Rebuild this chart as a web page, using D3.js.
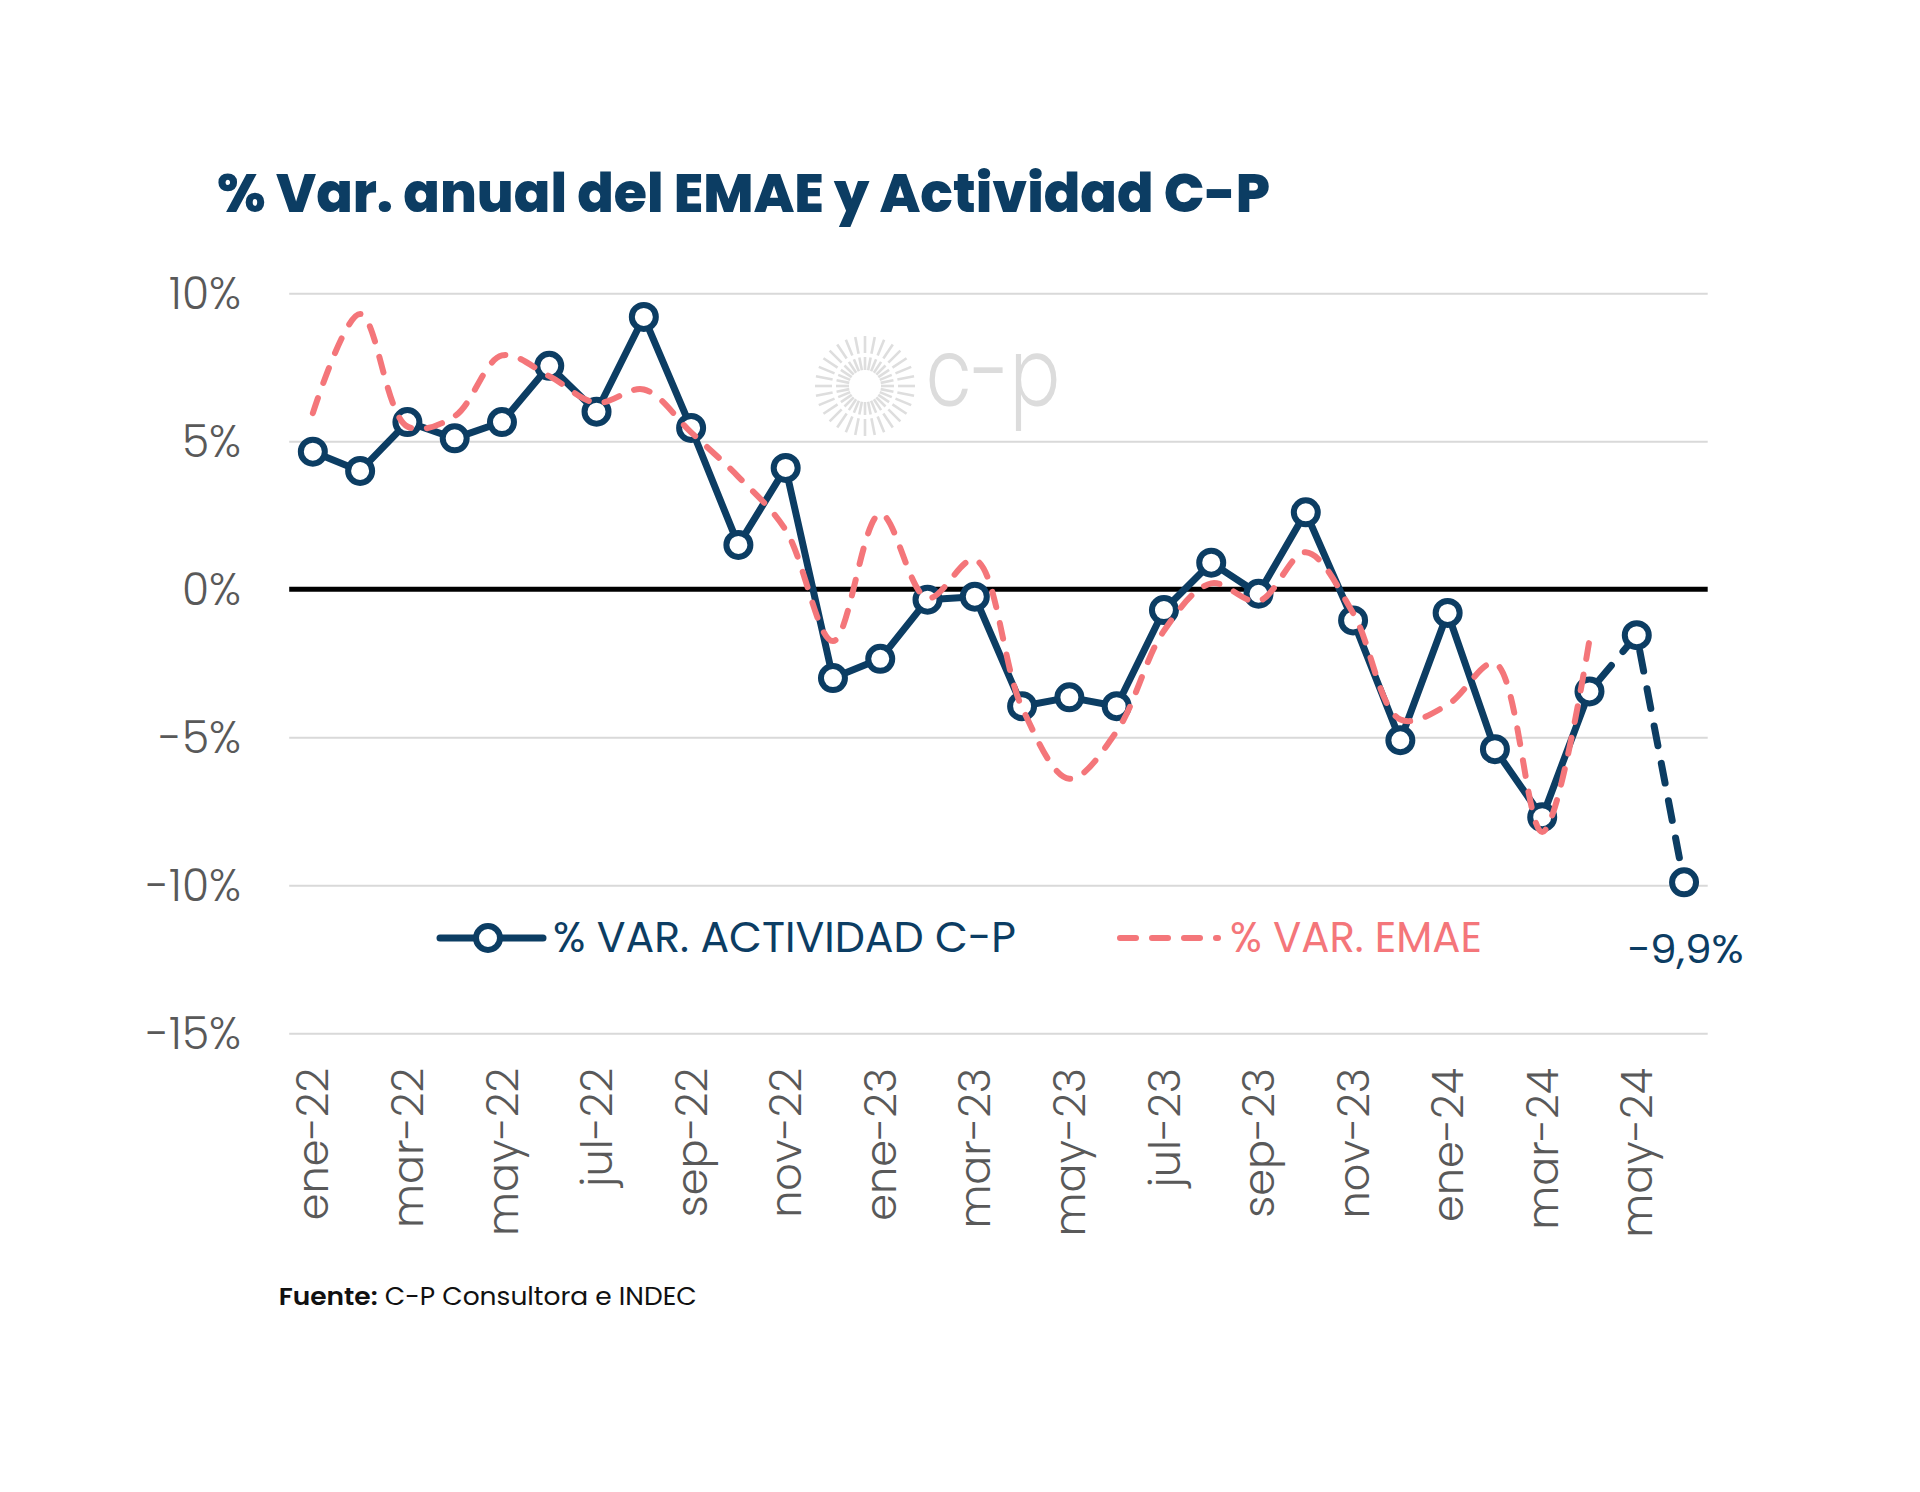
<!DOCTYPE html>
<html>
<head>
<meta charset="utf-8">
<script src="https://cdn.jsdelivr.net/npm/d3@7"></script>
<style>
  html, body { margin: 0; padding: 0; background: #ffffff; }
  svg { display: block; }
</style>
</head>
<body>
<svg id="chart" width="1920" height="1492"></svg>
<script>
// ---------------- DATA ----------------
const months = [
  "ene-22","feb-22","mar-22","abr-22","may-22","jun-22","jul-22","ago-22","sep-22","oct-22","nov-22","dic-22",
  "ene-23","feb-23","mar-23","abr-23","may-23","jun-23","jul-23","ago-23","sep-23","oct-23","nov-23","dic-23",
  "ene-24","feb-24","mar-24","abr-24","may-24","jun-24"
];
const actividadCP = [
  4.65, 4.0, 5.65, 5.1, 5.65, 7.55, 6.0, 9.2, 5.45, 1.5, 4.1, -3.0,
  -2.35, -0.35, -0.25, -3.95, -3.65, -3.95, -0.7, 0.9, -0.15, 2.6, -1.05, -5.1,
  -0.8, -5.4, -7.7, -3.45, -1.55, -9.9
];
const emae = [
  5.95, 9.3, 5.5, 5.85, 7.9, 7.2, 6.3, 6.75, 5.3, 3.8, 2.0, -1.75,
  2.55, -0.3, 1.0, -4.0, -6.4, -4.8, -1.4, 0.2, -0.4, 1.25, -0.8, -4.4,
  -3.9, -2.5, -8.2, -1.7
];
const yTicks = [10, 5, 0, -5, -10, -15];
const xTickLabels = ["ene-22","mar-22","may-22","jul-22","sep-22","nov-22","ene-23","mar-23","may-23","jul-23","sep-23","nov-23","ene-24","mar-24","may-24"];
const dashedFromIndex = 27; // actividad becomes dashed from abr-24 on
const titleText = "% Var. anual del EMAE y Actividad C-P";
const legendLabels = ["% VAR. ACTIVIDAD C-P", "% VAR. EMAE"];
const lastLabel = "\u22129,9%";
const sourceBold = "Fuente:";
const sourceRest = " C-P Consultora e INDEC";

// ---------------- STYLE ----------------
const NAVY = "#0c3d63";
const PINK = "#f4767a";
const GRID = "#d9d9d9";
const TICK = "#595959";
const FONT = "Poppins, Lato, 'Noto Sans', sans-serif";

const svg = d3.select("#chart");
svg.append("rect").attr("width", 1920).attr("height", 1492).attr("fill", "#fff");

const x = d3.scalePoint().domain(months).range([289.2, 1707.7]).padding(0.5);
const y = d3.scaleLinear().domain([-15, 10]).range([1033.3, 293.3]);

// watermark
const wm = svg.append("g").attr("transform", "translate(865,386)");
const nRays = 32;
for (let i = 0; i < nRays; i++) {
  const a = (i / nRays) * 2 * Math.PI;
  [[16, 29], [33, 50]].forEach(([r0, r1]) => {
    wm.append("line")
      .attr("x1", r0 * Math.cos(a)).attr("y1", r0 * Math.sin(a))
      .attr("x2", r1 * Math.cos(a)).attr("y2", r1 * Math.sin(a))
      .attr("stroke", "#dedede").attr("stroke-width", 2.6);
  });
}
svg.append("text").attr("x", 926).attr("y", 406)
  .attr("font-family", FONT).attr("font-weight", 300).attr("font-size", 95)
  .attr("fill", "#dcdcdc").attr("textLength", 134).attr("lengthAdjust", "spacingAndGlyphs")
  .text("c-p");

// gridlines
const grid = svg.append("g")
  .attr("transform", `translate(${x.range()[0]},0)`)
  .call(d3.axisRight(y).tickValues(yTicks.filter(d => d !== 0)).tickSize(x.range()[1] - x.range()[0]).tickFormat(""));
grid.select(".domain").remove();
grid.selectAll("line").attr("stroke", GRID).attr("stroke-width", 2);

// zero line
svg.append("line")
  .attr("x1", x.range()[0]).attr("x2", x.range()[1])
  .attr("y1", y(0)).attr("y2", y(0))
  .attr("stroke", "#000").attr("stroke-width", 5);

// y axis labels
const yAxis = svg.append("g").attr("transform", "translate(241,0)")
  .call(d3.axisLeft(y).tickValues(yTicks).tickSize(0).tickPadding(0).tickFormat(d => d + "%"));
yAxis.select(".domain").remove();
yAxis.selectAll("text")
  .attr("font-family", FONT).attr("font-weight", 300).attr("font-size", 44)
  .attr("fill", TICK).attr("dy", "0.35em");

// x axis labels
const xAxis = svg.append("g").attr("transform", "translate(0,1068)")
  .call(d3.axisBottom(x).tickValues(xTickLabels).tickSize(0));
xAxis.select(".domain").remove();
xAxis.selectAll("text")
  .attr("transform", "rotate(-90)")
  .attr("x", 0).attr("y", 0).attr("dy", "0.35em")
  .attr("text-anchor", "end")
  .attr("font-family", FONT).attr("font-weight", 300).attr("font-size", 43)
  .attr("fill", TICK);

// actividad line
const actPts = actividadCP.map((v, i) => [x(months[i]), y(v)]);
const lineLin = d3.line();
svg.append("path")
  .attr("d", lineLin(actPts.slice(0, dashedFromIndex + 1)))
  .attr("fill", "none").attr("stroke", NAVY).attr("stroke-width", 7)
  .attr("stroke-linejoin", "round").attr("stroke-linecap", "round");
svg.append("path")
  .attr("d", lineLin(actPts.slice(dashedFromIndex)))
  .attr("fill", "none").attr("stroke", NAVY).attr("stroke-width", 7)
  .attr("stroke-dasharray", "20 18").attr("stroke-linecap", "round")
  .attr("stroke-dashoffset", -14);

svg.append("g").selectAll("circle").data(actPts).join("circle")
  .attr("cx", d => d[0]).attr("cy", d => d[1]).attr("r", 12)
  .attr("fill", "#fff").attr("stroke", NAVY).attr("stroke-width", 6);

// EMAE line (smoothed, dashed) on top
const emaePts = emae.map((v, i) => [x(months[i]), y(v)]);
svg.append("path")
  .attr("d", d3.line().curve(d3.curveCatmullRom.alpha(0.5))(emaePts))
  .attr("fill", "none").attr("stroke", PINK).attr("stroke-width", 6)
  .attr("stroke-dasharray", "16 16").attr("stroke-linecap", "round");

// legend
const lg = svg.append("g");
lg.append("line").attr("x1", 440).attr("x2", 543).attr("y1", 938).attr("y2", 938)
  .attr("stroke", NAVY).attr("stroke-width", 7).attr("stroke-linecap", "round");
lg.append("circle").attr("cx", 488).attr("cy", 938).attr("r", 12)
  .attr("fill", "#fff").attr("stroke", NAVY).attr("stroke-width", 6);
lg.append("text").attr("x", 553).attr("y", 951.7)
  .attr("font-family", FONT).attr("font-weight", 400).attr("font-size", 42).attr("fill", NAVY)
  .attr("textLength", 463).attr("lengthAdjust", "spacingAndGlyphs")
  .text(legendLabels[0]);
lg.append("line").attr("x1", 1120).attr("x2", 1218).attr("y1", 938).attr("y2", 938)
  .attr("stroke", PINK).attr("stroke-width", 6).attr("stroke-linecap", "round")
  .attr("stroke-dasharray", "16 16");
lg.append("text").attr("x", 1230).attr("y", 951.7)
  .attr("font-family", FONT).attr("font-weight", 400).attr("font-size", 42).attr("fill", PINK)
  .attr("textLength", 252).attr("lengthAdjust", "spacingAndGlyphs")
  .text(legendLabels[1]);

// last value label
svg.append("text").attr("x", 1626.7).attr("y", 963.3)
  .attr("font-family", FONT).attr("font-weight", 400).attr("font-size", 40).attr("fill", NAVY)
  .attr("textLength", 117).attr("lengthAdjust", "spacingAndGlyphs")
  .text(lastLabel);

// title
svg.append("text").attr("x", 217).attr("y", 211.7)
  .attr("font-family", FONT).attr("font-weight", 800).attr("font-size", 55).attr("fill", NAVY)
  .attr("textLength", 1053).attr("lengthAdjust", "spacingAndGlyphs")
  .text(titleText);

// source
const src = svg.append("text").attr("x", 278.7).attr("y", 1305)
  .attr("font-family", FONT).attr("font-size", 24).attr("fill", "#111")
  .attr("textLength", 418).attr("lengthAdjust", "spacingAndGlyphs");
src.append("tspan").attr("font-weight", 600).text(sourceBold);
src.append("tspan").attr("font-weight", 400).text(sourceRest);
</script>
</body>
</html>
